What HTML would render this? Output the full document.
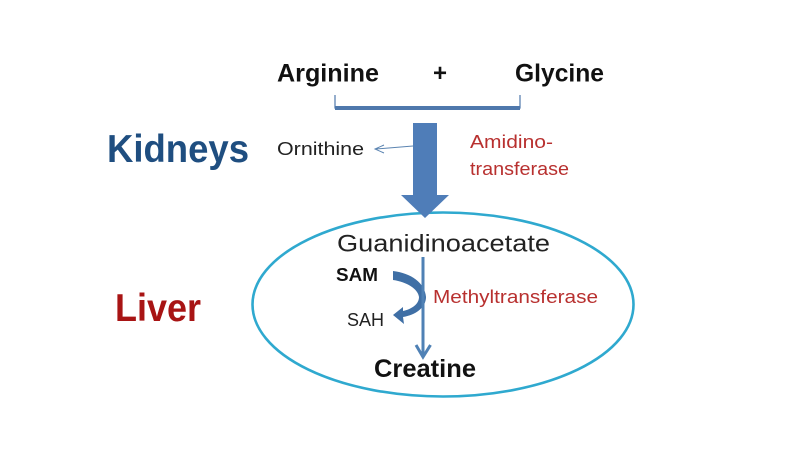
<!DOCTYPE html>
<html><head><meta charset="utf-8"><style>
html,body{margin:0;padding:0;background:#fff;width:800px;height:457px;overflow:hidden}
svg{display:block}
text{font-family:"Liberation Sans",sans-serif}
</style></head><body>
<svg width="800" height="457" viewBox="0 0 800 457">
<rect width="800" height="457" fill="#fff"/>
<ellipse cx="443" cy="304.5" rx="190.5" ry="92" fill="none" stroke="#2fa9cf" stroke-width="2.6"/>
<path d="M335 95V108H520V95" fill="none" stroke="#4f78ac" stroke-width="1.2"/>
<rect x="335" y="106" width="185" height="4" fill="#4f78ac"/>
<path d="M413 123H437V195H449L425 218L401 195H413Z" fill="#4f7db8"/>
<path d="M413 146L376 149M384 145L375 149L384 153" fill="none" stroke="#5b84b1" stroke-width="1"/>
<path d="M393 271C411 273 425 283 426 297C426 308 415 315 403 317L404 324L393 315L403 307L403 311C412 309 419 304 419 297C418 289 407 282 393 280Z" fill="#3f6fa5"/>
<path d="M423 257V356" stroke="#4f81b5" stroke-width="3" fill="none"/>
<path d="M416 345L423 357L430.500 345" stroke="#4f81b5" stroke-width="3" fill="none"/>
<g font-weight="bold" fill="#111">
<text x="277" y="81.500" font-size="25" textLength="102" lengthAdjust="spacingAndGlyphs">Arginine</text>
<text x="433" y="81" font-size="24">+</text>
<text x="515" y="81.500" font-size="25" textLength="89" lengthAdjust="spacingAndGlyphs">Glycine</text>
<text x="374" y="377" font-size="25" textLength="102" lengthAdjust="spacingAndGlyphs">Creatine</text>
<text x="336" y="281" font-size="18" textLength="42" lengthAdjust="spacingAndGlyphs">SAM</text>
</g>
<text x="107" y="162" font-size="39" font-weight="bold" fill="#1f4e80" textLength="142" lengthAdjust="spacingAndGlyphs">Kidneys</text>
<text x="115" y="321" font-size="39" font-weight="bold" fill="#a81414" textLength="86" lengthAdjust="spacingAndGlyphs">Liver</text>
<g fill="#222">
<text x="277" y="155" font-size="18" textLength="87" lengthAdjust="spacingAndGlyphs">Ornithine</text>
<text x="337" y="251.500" font-size="24" textLength="213" lengthAdjust="spacingAndGlyphs">Guanidinoacetate</text>
<text x="347" y="326" font-size="18" textLength="37" lengthAdjust="spacingAndGlyphs">SAH</text>
</g>
<g fill="#b8302f">
<text x="470" y="148" font-size="18" textLength="83" lengthAdjust="spacingAndGlyphs">Amidino-</text>
<text x="470" y="175" font-size="18" textLength="99" lengthAdjust="spacingAndGlyphs">transferase</text>
<text x="433" y="303" font-size="18" textLength="165" lengthAdjust="spacingAndGlyphs">Methyltransferase</text>
</g>
</svg>
</body></html>
